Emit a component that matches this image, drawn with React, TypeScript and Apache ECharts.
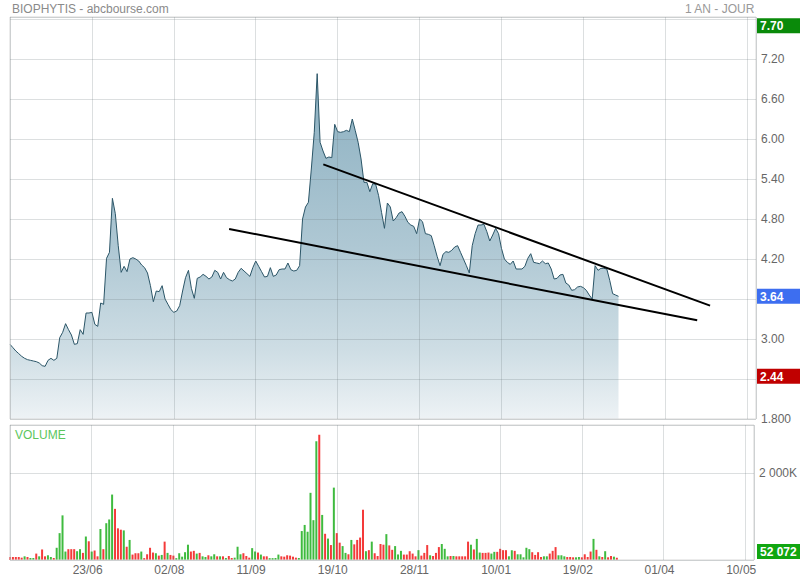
import React, { useEffect, useRef } from "react";
import * as echarts from "echarts";

// Daily closing prices (trading-day index 0..208)
const prices = [
  2.92, 2.87, 2.82, 2.78, 2.74, 2.71, 2.69, 2.68, 2.67, 2.66,
  2.64, 2.60, 2.59, 2.68, 2.71, 2.68, 2.71, 3.02, 3.10, 3.23,
  3.14, 3.06, 2.92, 2.93, 3.14, 3.07, 3.39, 3.39, 3.40, 3.22,
  3.19, 3.54, 3.52, 4.21, 4.30, 5.11, 4.88, 4.40, 4.00, 4.09,
  4.01, 4.20, 4.22, 4.20, 4.17, 4.11, 4.07, 3.99, 3.80, 3.56,
  3.72, 3.71, 3.80, 3.60, 3.52, 3.44, 3.40, 3.42, 3.50, 3.72,
  3.92, 4.03, 3.76, 3.61, 3.91, 3.93, 3.97, 3.94, 3.90, 3.93,
  4.03, 4.00, 3.90, 4.00, 3.92, 3.89, 3.87, 3.90, 4.00, 4.06,
  4.02, 3.98, 3.94, 4.07, 4.17, 4.09, 4.01, 3.93, 3.94, 4.07,
  3.94, 3.96, 4.04, 4.05, 4.05, 4.14, 4.04, 4.02, 4.03, 4.10,
  4.80, 4.98, 5.05, 5.55, 6.10, 6.98, 5.95, 5.82, 5.71, 5.73,
  5.72, 6.22, 6.11, 6.10, 6.11, 6.13, 6.11, 6.30, 6.13, 5.95,
  5.70, 5.35, 5.35, 5.21, 5.33, 5.32, 5.15, 4.90, 4.66, 5.04,
  4.98, 4.77, 4.82, 4.89, 4.91, 4.84, 4.75, 4.71, 4.69, 4.58,
  4.80, 4.76, 4.58, 4.57, 4.55, 4.40, 4.24, 4.10, 4.27, 4.31,
  4.30, 4.33, 4.38, 4.40, 4.30, 4.20, 4.10, 3.99, 4.40, 4.58,
  4.71, 4.71, 4.72, 4.61, 4.47, 4.56, 4.66, 4.58, 4.36, 4.20,
  4.15, 4.12, 4.17, 4.05, 4.05, 4.05, 4.09, 4.21, 4.28, 4.15,
  4.14, 4.13, 4.17, 4.13, 4.14, 4.05, 3.90, 3.91, 3.96, 3.97,
  3.84, 3.81, 3.73, 3.74, 3.78, 3.79, 3.77, 3.73, 3.66, 3.60,
  4.10, 4.03, 4.06, 4.06, 4.05, 3.88, 3.68, 3.66, 3.64,
];

// Daily volumes, in thousands of shares
const volumesK = [
  69, 69, 69, 69, 54, 85, 69, 46, 46, 148,
  85, 243, 85, 109, 69, 46, 282, 620, 1030, 195,
  250, 250, 250, 203, 250, 164, 542, 432, 195, 219,
  85, 715, 250, 849, 935, 1510, 1180, 731, 699, 683,
  306, 463, 125, 156, 156, 195, 43, 132, 282, 172,
  156, 101, 117, 424, 164, 117, 101, 43, 156, 77,
  180, 353, 195, 211, 148, 164, 85, 69, 109, 85,
  132, 85, 85, 85, 46, 93, 46, 54, 306, 132,
  156, 93, 54, 274, 195, 172, 125, 85, 85, 43,
  43, 46, 125, 85, 77, 109, 101, 77, 54, 46,
  668, 809, 652, 1550, 919, 2740, 2890, 1040, 605, 494,
  345, 1670, 620, 400, 321, 164, 132, 463, 361, 463,
  518, 1160, 203, 227, 424, 156, 93, 369, 353, 597,
  337, 235, 321, 128, 211, 125, 125, 203, 148, 85,
  227, 101, 164, 345, 109, 93, 164, 298, 369, 258,
  85, 93, 93, 85, 85, 85, 85, 424, 353, 243,
  487, 172, 164, 164, 172, 148, 188, 188, 258, 227,
  227, 85, 227, 211, 132, 132, 62, 282, 250, 180,
  117, 180, 69, 85, 85, 148, 211, 298, 109, 109,
  85, 69, 69, 62, 62, 69, 62, 132, 69, 195,
  487, 235, 85, 69, 203, 62, 93, 77, 52.072,
];

// Bar colour per day: g = up day, r = down day
const volumeDirs = (
  "rrrrrgrggr" + "grrggrgggg" + "rrrggrgrgr" + "rgrgggrrrg" + "rgrrrgrrrr" +
  "grgrgrrggg" + "ggrrgrggrg" + "grgrgrrggg" + "rrrggrgrrg" + "gggrrrrrrg" +
  "ggggggrgrg" + "rgrrggrgrr" + "rrgrgrrrrg" + "rrgggrrrrr" + "grrrgrrrgg" +
  "grgrrrrrgr" + "ggrrrggrrr" + "rggrgggggr" + "rrrggrrrgg" + "grrrggrrrr" +
  "grgrgrrgr"
).split("");

const dateLabels = ["23/06", "02/08", "11/09", "19/10", "28/11", "10/01", "19/02", "01/04", "10/05"];
const daysPerLabel = 28;
const axisDays = 255;

const highPrice = 7.7;
const lastPrice = 3.64;
const lowPrice = 2.44;
const lastVolumeText = "52 072";

// Hand-drawn trend lines: [day index, price]
const upperTrend = [[107.1, 5.62], [239.3, 3.5]];
const lowerTrend = [[74.9, 4.65], [234.9, 3.28]];

const FONT = "'Liberation Sans', Arial, sans-serif";
const GRID_LINE = "rgba(110,120,125,0.24)";
const GREEN = "#3fbb3f";
const RED = "#f43a3a";

export default function App() {
  const ref = useRef<HTMLDivElement>(null);

  useEffect(() => {
    document.body.style.margin = "0";
    if (!ref.current) return;
    const chart = echarts.init(ref.current, null, { renderer: "svg" });

    const near = (a: number, b: number) => Math.abs(a - b) < 1e-6;

    chart.setOption({
      animation: false,
      textStyle: { fontFamily: FONT },
      grid: [
        { left: 10, top: 17, width: 746, height: 402, show: true, borderColor: "#d8d8d8", borderWidth: 1, z: 3 },
        { left: 10, top: 425, width: 746, height: 135, show: true, borderColor: "#d8d8d8", borderWidth: 1, z: 3 },
      ],
      xAxis: [
        {
          gridIndex: 0, type: "value", min: 0, max: axisDays, interval: daysPerLabel, z: 3,
          axisLine: { show: false }, axisTick: { show: false }, axisLabel: { show: false },
          splitLine: { show: true, lineStyle: { color: GRID_LINE, width: 1 } },
        },
        {
          gridIndex: 1, type: "value", min: 0, max: axisDays, interval: daysPerLabel, z: 3,
          axisLine: { show: false }, axisTick: { show: false },
          axisLabel: {
            show: true, color: "#666", fontSize: 12, fontFamily: FONT, margin: 4,
            padding: [0, 8, 0, 0],
            formatter: (v: number) => {
              if (v % daysPerLabel !== 0 || v === 0) return "";
              return dateLabels[v / daysPerLabel - 1] || "";
            },
          },
          splitLine: { show: true, lineStyle: { color: GRID_LINE, width: 1 } },
        },
      ],
      yAxis: [
        {
          gridIndex: 0, type: "value", position: "right", min: 1.8, max: 7.83, interval: 0.6, z: 3,
          axisLine: { show: false }, axisTick: { show: false },
          axisLabel: {
            color: "#666", fontSize: 12, fontFamily: FONT, margin: 5,
            formatter: (v: number) => {
              if (near(v, 1.8)) return "1.800";
              if (near(v, 2.4) || near(v, 3.6) || v > 7.5) return "";
              return v.toFixed(2);
            },
          },
          splitLine: { show: true, lineStyle: { color: GRID_LINE, width: 1 } },
        },
        {
          gridIndex: 1, type: "value", position: "right", min: 0, max: 3115, interval: 2000, z: 3,
          axisLine: { show: false }, axisTick: { show: false },
          axisLabel: {
            color: "#666", fontSize: 12, fontFamily: FONT, margin: 5,
            formatter: (v: number) => (v === 2000 ? "2 000K" : ""),
          },
          splitLine: { show: true, lineStyle: { color: GRID_LINE, width: 1 } },
        },
      ],
      series: [
        {
          type: "line",
          xAxisIndex: 0, yAxisIndex: 0,
          data: prices.map((p, i) => [i, p]),
          symbol: "none",
          showSymbol: false,
          lineStyle: { color: "#2b5567", width: 1 },
          areaStyle: {
            color: new echarts.graphic.LinearGradient(0, 0, 0, 1, [
              { offset: 0, color: "#5a8ea6" },
              { offset: 0.5, color: "#8cb0c1" },
              { offset: 0.8, color: "#b9cfd9" },
              { offset: 1, color: "#e6edf1" },
            ]),
          },
          z: 2,
        },
        {
          type: "line", xAxisIndex: 0, yAxisIndex: 0, data: upperTrend,
          symbol: "none", lineStyle: { color: "#000", width: 2 }, z: 6, silent: true,
        },
        {
          type: "line", xAxisIndex: 0, yAxisIndex: 0, data: lowerTrend,
          symbol: "none", lineStyle: { color: "#000", width: 2 }, z: 6, silent: true,
        },
        {
          type: "bar",
          xAxisIndex: 1, yAxisIndex: 1,
          barWidth: 2,
          data: volumesK.map((v, i) => ({
            value: [i, v],
            itemStyle: { color: volumeDirs[i] === "g" ? GREEN : RED },
          })),
          z: 2,
        },
      ],
    });

    // Price badges on the right, positioned through the price axis
    const badge = (value: number, text: string, bg: string) => {
      const y = chart.convertToPixel({ yAxisIndex: 0 }, value) as number;
      return {
        type: "group", x: 757, y: y - 7.5, z: 10,
        children: [
          { type: "rect", shape: { x: 0, y: 0, width: 43, height: 15 }, style: { fill: bg } },
          {
            type: "text", x: 3, y: 8,
            style: { text, fill: "#fff", font: `bold 12px ${FONT}`, verticalAlign: "middle" },
          },
        ],
      };
    };

    chart.setOption({
      graphic: [
        {
          type: "text", left: 12, top: 3, z: 10,
          style: { text: "BIOPHYTIS - abcbourse.com", fill: "#8a8a8a", font: `12px ${FONT}` },
        },
        {
          type: "text", right: 45, top: 3, z: 10,
          style: { text: "1 AN - JOUR", fill: "#999", font: `12px ${FONT}` },
        },
        {
          type: "text", left: 15, top: 429, z: 10,
          style: { text: "VOLUME", fill: "#5cc65c", font: `12px ${FONT}` },
        },
        badge(highPrice, highPrice.toFixed(2), "#0a8a0a"),
        badge(lastPrice, lastPrice.toFixed(2), "#3d6ef0"),
        badge(lowPrice, lowPrice.toFixed(2), "#c00000"),
        {
          type: "group", x: 757, y: 544, z: 10,
          children: [
            { type: "rect", shape: { x: 0, y: 0, width: 43, height: 15 }, style: { fill: "#11a611" } },
            {
              type: "text", x: 3, y: 8,
              style: { text: lastVolumeText, fill: "#fff", font: `bold 12px ${FONT}`, verticalAlign: "middle" },
            },
          ],
        },
      ],
    });

    return () => chart.dispose();
  }, []);

  return <div ref={ref} style={{ width: 800, height: 580 }} />;
}
